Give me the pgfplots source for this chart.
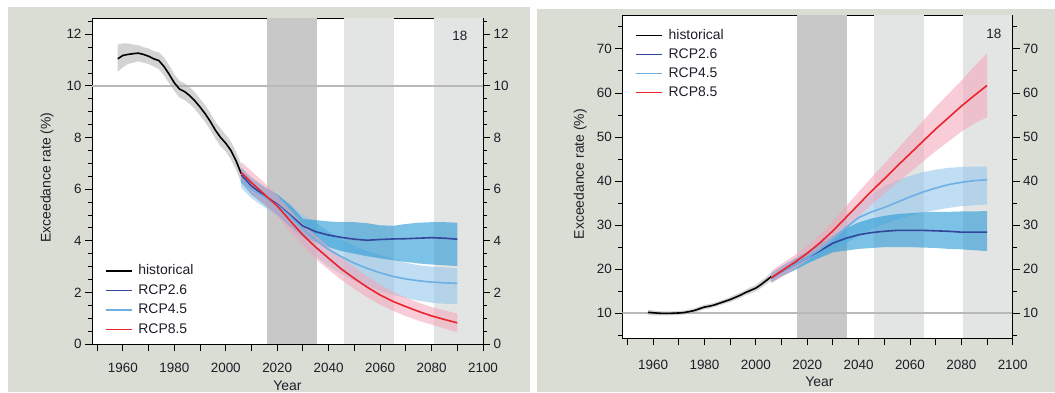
\documentclass[border=0pt]{standalone}
\usepackage{pgfplots}
\pgfplotsset{compat=1.18}
\usepackage{pgfplotstable}
\usepackage{fontspec}
\setmainfont{Liberation Sans}

\definecolor{panelbg}{RGB}{217,221,212}
\definecolor{darkband}{RGB}{200,200,200}
\definecolor{lightband}{RGB}{227,229,228}
\definecolor{refline}{RGB}{185,185,185}
\definecolor{histband}{RGB}{175,175,175}
\definecolor{bandA}{RGB}{45,155,215}
\definecolor{bandB}{RGB}{150,200,235}
\definecolor{bandC}{RGB}{245,165,185}
\definecolor{lineA}{RGB}{50,70,155}
\definecolor{lineB}{RGB}{110,175,228}
\definecolor{lineC}{RGB}{235,35,45}
\definecolor{txt}{RGB}{30,30,40}

% ---------------- ensemble means, falling exceedance rate ----------------
\pgfplotstableread{
year mean
1958 11.05
1960 11.18
1962 11.22
1964 11.25
1966 11.27
1968 11.22
1970 11.15
1972 11.05
1974 10.98
1976 10.75
1978 10.45
1980 10.12
1982 9.88
1984 9.78
1986 9.62
1988 9.42
1990 9.18
1992 8.92
1994 8.62
1996 8.28
1998 8.00
2000 7.78
2002 7.50
2004 7.10
2005 6.85
2006 6.60
}\histL

\pgfplotstableread{
year mean
2006 6.55
2010 6.12
2015 5.75
2020 5.42
2025 5.00
2030 4.57
2035 4.35
2040 4.22
2045 4.13
2050 4.06
2055 4.02
2060 4.05
2065 4.07
2070 4.08
2075 4.10
2080 4.12
2085 4.10
2090 4.06
}\rcpaL

\pgfplotstableread{
year mean
2006 6.35
2010 6.00
2015 5.70
2020 5.38
2025 4.95
2030 4.45
2035 4.03
2040 3.66
2045 3.38
2050 3.13
2055 2.93
2060 2.76
2065 2.62
2070 2.52
2075 2.45
2080 2.40
2085 2.37
2090 2.35
}\rcpbL

\pgfplotstableread{
year mean
2006 6.65
2010 6.25
2015 5.80
2020 5.35
2025 4.78
2030 4.22
2035 3.75
2040 3.32
2045 2.90
2050 2.54
2055 2.20
2060 1.90
2065 1.65
2070 1.45
2075 1.26
2080 1.09
2085 0.95
2090 0.82
}\rcpcL

% ---------------- ensemble means, rising exceedance rate ----------------
\pgfplotstableread{
year mean
1958 10.20
1960 10.10
1962 10.00
1964 9.95
1966 9.95
1968 10.00
1970 10.05
1972 10.15
1974 10.35
1976 10.60
1978 11.00
1980 11.40
1982 11.60
1984 11.90
1986 12.30
1988 12.70
1990 13.10
1992 13.60
1994 14.10
1996 14.70
1998 15.20
2000 15.70
2002 16.50
2004 17.40
2006 18.30
}\histR

\pgfplotstableread{
year mean
2006 18.0
2010 19.5
2015 21.0
2020 22.6
2025 24.2
2030 25.9
2035 27.0
2040 27.8
2045 28.3
2050 28.6
2055 28.8
2060 28.8
2065 28.8
2070 28.7
2075 28.6
2080 28.4
2085 28.4
2090 28.4
}\rcpaR

\pgfplotstableread{
year mean
2006 18.0
2010 19.5
2015 21.0
2020 22.6
2025 24.5
2030 26.8
2035 29.4
2040 31.7
2045 33.0
2050 34.0
2055 35.2
2060 36.4
2065 37.5
2070 38.4
2075 39.2
2080 39.7
2085 40.1
2090 40.3
}\rcpbR

\pgfplotstableread{
year mean
2006 18.0
2010 19.6
2015 21.5
2020 23.6
2025 26.0
2030 28.7
2035 31.7
2040 34.7
2045 37.7
2050 40.5
2055 43.4
2060 46.2
2065 49.0
2070 51.8
2075 54.4
2080 57.0
2085 59.4
2090 61.7
}\rcpcR

\pgfplotsset{
  legend image code/.code={\draw[#1, line width=1.4bp] (0bp,0bp) -- (26bp,0bp);},
  panel/.style={
    scale only axis, anchor=south west,
    xmin=1948, xmax=2100,
    axis background/.style={fill=white},
    axis line style={line width=1bp, black},
    tick align=outside,
    major tick length=7bp, minor tick length=4bp,
    every tick/.style={black, line width=0.9bp},
    xtick={1950,1960,...,2100},
    xticklabels={,1960,,1980,,2000,,2020,,2040,,2060,,2080,,2100},
    xticklabel style={yshift=-9bp},
    xtick pos=left, ytick pos=left,
    tick label style={font=\fontsize{13.5}{15}\selectfont, text=txt},
    label style={font=\fontsize{14}{16}\selectfont, text=txt},
    /pgf/number format/assume math mode=true,
    /pgf/number format/1000 sep={},
    xlabel={Year}, ylabel={Exceedance rate (\%)},
    legend cell align=left,
    legend style={draw=none, fill=none, anchor=north west,
      font=\fontsize{14}{16}\selectfont, text=txt,
      row sep=3.5bp, column sep=5bp,
      nodes={inner sep=1bp, text height=11bp, text depth=3bp}},
  },
  rightticks/.style={
    scale only axis, anchor=south west,
    xmin=1948, xmax=2100,
    axis x line=none, axis y line*=right,
    axis line style={line width=1bp, black},
    tick align=outside,
    major tick length=7bp, minor tick length=4bp,
    every tick/.style={black, line width=0.9bp},
    tick label style={font=\fontsize{13.5}{15}\selectfont, text=txt},
    /pgf/number format/assume math mode=true,
  },
  spread/.style={draw=none, forget plot, fill=#1},
  mean/.style={#1, line width=1.6bp},
}

\begin{document}
\begin{tikzpicture}[x=1bp,y=1bp]
\fill[panelbg] (8,0) rectangle (530,385);
\fill[panelbg] (537,0) rectangle (1055,383);

% ================= left panel =================
\begin{axis}[panel, at={(92bp,48bp)}, width=391bp, height=325.7bp,
  ymin=0, ymax=12.62,
  ytick={0,2,...,12}, minor ytick={0,0.5,...,12.5},
  xlabel style={at={(axis description cs:0.5,-0.127)}, anchor=center},
  ylabel style={at={(axis description cs:-0.115,0.511)}, anchor=center},
  legend style={at={(axis description cs:0.025,0.256)}},
]
% reporting periods
\addplot[fill=darkband, draw=none, forget plot] coordinates {(2016,0) (2016,12.62) (2035.5,12.62) (2035.5,0)} -- cycle;
\addplot[fill=lightband, draw=none, forget plot] coordinates {(2046,0) (2046,12.62) (2065.5,12.62) (2065.5,0)} -- cycle;
\addplot[fill=lightband, draw=none, forget plot] coordinates {(2080.8,0) (2080.8,12.62) (2100,12.62) (2100,0)} -- cycle;
% 10 % reference level
\addplot[refline, line width=2bp, forget plot] coordinates {(1948,10) (2100,10)};
% ensemble spread: upper edge forwards, lower edge backwards
\addplot[spread=histband, fill opacity=0.55] coordinates {
 (1958,11.60)(1960,11.65)(1962,11.65)(1964,11.60)(1966,11.58)(1968,11.50)(1970,11.45)
 (1972,11.35)(1974,11.30)(1976,11.10)(1978,10.80)(1980,10.45)(1982,10.20)(1984,10.10)
 (1986,9.95)(1988,9.75)(1990,9.50)(1992,9.25)(1994,8.95)(1996,8.60)(1998,8.35)
 (2000,8.10)(2002,7.85)(2004,7.45)(2005,7.20)(2006,6.95)
 (2006,6.25)(2005,6.50)(2004,6.75)(2002,7.15)(2000,7.45)(1998,7.65)(1996,7.95)
 (1994,8.30)(1992,8.60)(1990,8.85)(1988,9.10)(1986,9.30)(1984,9.45)(1982,9.55)
 (1980,9.80)(1978,10.10)(1976,10.40)(1974,10.65)(1972,10.75)(1970,10.85)(1968,10.90)
 (1966,10.95)(1964,10.90)(1962,10.85)(1960,10.72)(1958,10.55)} -- cycle;
\addplot[spread=bandB, fill opacity=0.6] coordinates {
 (2006,6.70)(2010,6.35)(2015,6.05)(2020,5.80)(2025,5.40)(2030,5.00)(2035,4.70)(2040,4.35)
 (2045,4.05)(2050,3.80)(2055,3.60)(2060,3.45)(2065,3.30)(2070,3.15)(2075,3.05)(2080,3.00)
 (2085,2.97)(2090,2.95)
 (2090,1.55)(2085,1.56)(2080,1.60)(2075,1.68)(2070,1.78)(2065,1.90)(2060,2.05)(2055,2.25)
 (2050,2.45)(2045,2.70)(2040,3.00)(2035,3.40)(2030,3.90)(2025,4.45)(2020,4.95)(2015,5.30)
 (2010,5.65)(2006,6.05)} -- cycle;
\addplot[spread=bandA, fill opacity=0.62] coordinates {
 (2006,6.85)(2010,6.45)(2015,6.10)(2020,5.80)(2025,5.40)(2030,4.85)(2035,4.80)(2040,4.75)
 (2045,4.72)(2050,4.72)(2055,4.68)(2060,4.60)(2065,4.58)(2070,4.65)(2075,4.70)(2080,4.72)
 (2085,4.72)(2090,4.70)
 (2090,3.02)(2085,3.05)(2080,3.08)(2075,3.12)(2070,3.18)(2065,3.25)(2060,3.32)(2055,3.40)
 (2050,3.50)(2045,3.60)(2040,3.75)(2035,3.95)(2030,4.15)(2025,4.55)(2020,5.00)(2015,5.40)
 (2010,5.80)(2006,6.25)} -- cycle;
\addplot[spread=bandC, fill opacity=0.55] coordinates {
 (2006,7.05)(2010,6.70)(2015,6.25)(2020,5.75)(2025,5.20)(2030,4.65)(2035,4.20)(2040,3.76)
 (2045,3.35)(2050,2.98)(2055,2.62)(2060,2.30)(2065,2.02)(2070,1.80)(2075,1.60)(2080,1.43)
 (2085,1.30)(2090,1.18)
 (2090,0.45)(2085,0.60)(2080,0.75)(2075,0.90)(2070,1.08)(2065,1.28)(2060,1.52)(2055,1.80)
 (2050,2.13)(2045,2.48)(2040,2.88)(2035,3.30)(2030,3.80)(2025,4.35)(2020,4.95)(2015,5.40)
 (2010,5.85)(2006,6.30)} -- cycle;
% ensemble means
\addplot[mean=black] table[x=year,y=mean]{\histL};
\addlegendentry{historical}
\addplot[mean=lineA] table[x=year,y=mean]{\rcpaL};
\addlegendentry{RCP2.6}
\addplot[mean=lineB] table[x=year,y=mean]{\rcpbL};
\addlegendentry{RCP4.5}
\addplot[mean=lineC] table[x=year,y=mean]{\rcpcL};
\addlegendentry{RCP8.5}
\node[font=\fontsize{13.5}{15}\selectfont, text=txt] at (axis description cs:0.941,0.947) {18};
\end{axis}
% same scale repeated on the right-hand side
\begin{axis}[rightticks, at={(92bp,48bp)}, width=391bp, height=325.7bp,
  ymin=0, ymax=12.62,
  ytick={0,2,...,12}, minor ytick={0,0.5,...,12.5}]
\addplot[draw=none, forget plot] coordinates {(2000,5) (2010,6)};
\end{axis}

% ================= right panel =================
\begin{axis}[panel, at={(622.3bp,53.7bp)}, width=390.4bp, height=323.3bp,
  ymin=4.3, ymax=77.7,
  ytick={10,20,...,70}, minor ytick={5,10,...,75},
  xticklabel style={yshift=-2bp},
  xlabel style={at={(axis description cs:0.505,-0.134)}, anchor=center},
  ylabel style={at={(axis description cs:-0.108,0.508)}, anchor=center},
  legend style={at={(axis description cs:0.025,0.968)}, row sep=3bp},
]
\addplot[fill=darkband, draw=none, forget plot] coordinates {(2016,4.3) (2016,77.7) (2035.5,77.7) (2035.5,4.3)} -- cycle;
\addplot[fill=lightband, draw=none, forget plot] coordinates {(2046,4.3) (2046,77.7) (2065.5,77.7) (2065.5,4.3)} -- cycle;
\addplot[fill=lightband, draw=none, forget plot] coordinates {(2080.8,4.3) (2080.8,77.7) (2100,77.7) (2100,4.3)} -- cycle;
\addplot[refline, line width=2bp, forget plot] coordinates {(1948,10) (2100,10)};
\addplot[spread=histband, fill opacity=0.55] coordinates {
 (1958,10.80)(1960,10.60)(1962,10.50)(1964,10.40)(1966,10.40)(1968,10.45)(1970,10.50)
 (1972,10.60)(1974,10.80)(1976,11.10)(1978,11.50)(1980,11.90)(1982,12.10)(1984,12.40)
 (1986,12.80)(1988,13.20)(1990,13.70)(1992,14.20)(1994,14.70)(1996,15.30)(1998,15.90)
 (2000,16.40)(2002,17.30)(2004,18.20)(2006,19.20)
 (2006,17.40)(2004,16.60)(2002,15.70)(2000,15.00)(1998,14.50)(1996,14.10)(1994,13.50)
 (1992,13.00)(1990,12.50)(1988,12.20)(1986,11.80)(1984,11.40)(1982,11.10)(1980,10.90)
 (1978,10.50)(1976,10.10)(1974,9.90)(1972,9.70)(1970,9.60)(1968,9.55)(1966,9.50)
 (1964,9.50)(1962,9.50)(1960,9.50)(1958,9.60)} -- cycle;
\addplot[spread=bandB, fill opacity=0.6] coordinates {
 (2006,19.2)(2010,20.7)(2015,22.4)(2020,24.1)(2025,26.3)(2030,28.9)(2035,31.8)(2040,34.6)
 (2045,37.0)(2050,38.9)(2055,40.2)(2060,41.2)(2065,42.0)(2070,42.6)(2075,43.0)(2080,43.2)
 (2085,43.3)(2090,43.3)
 (2090,34.7)(2085,34.5)(2080,34.3)(2075,33.9)(2070,33.4)(2065,32.8)(2060,32.1)(2055,31.3)
 (2050,30.3)(2045,29.0)(2040,27.5)(2035,25.9)(2030,24.3)(2025,22.7)(2020,21.1)(2015,19.7)
 (2010,18.3)(2006,17.0)} -- cycle;
\addplot[spread=bandA, fill opacity=0.62] coordinates {
 (2006,19.0)(2010,20.6)(2015,22.3)(2020,24.0)(2025,25.8)(2030,27.6)(2035,29.3)(2040,30.6)
 (2045,31.5)(2050,32.1)(2055,32.5)(2060,32.7)(2065,32.9)(2070,33.0)(2075,33.0)(2080,33.1)
 (2085,33.1)(2090,33.2)
 (2090,24.1)(2085,24.3)(2080,24.5)(2075,24.6)(2070,24.8)(2065,24.9)(2060,25.0)(2055,25.0)
 (2050,25.0)(2045,24.8)(2040,24.6)(2035,24.2)(2030,23.8)(2025,22.6)(2020,21.3)(2015,19.8)
 (2010,18.4)(2006,17.0)} -- cycle;
\addplot[spread=bandC, fill opacity=0.55] coordinates {
 (2006,19.6)(2010,21.2)(2015,23.1)(2020,25.3)(2025,27.9)(2030,30.9)(2035,34.2)(2040,37.5)
 (2045,40.8)(2050,43.9)(2055,47.2)(2060,50.4)(2065,53.6)(2070,56.8)(2075,59.8)(2080,62.8)
 (2085,66.0)(2090,69.0)
 (2090,54.5)(2085,53.0)(2080,51.2)(2075,49.0)(2070,46.8)(2065,44.4)(2060,42.0)(2055,39.6)
 (2050,37.1)(2045,34.6)(2040,31.9)(2035,29.2)(2030,26.6)(2025,24.2)(2020,22.0)(2015,20.0)
 (2010,18.2)(2006,16.8)} -- cycle;
\addplot[mean=black] table[x=year,y=mean]{\histR};
\addlegendentry{historical}
\addplot[mean=lineA] table[x=year,y=mean]{\rcpaR};
\addlegendentry{RCP2.6}
\addplot[mean=lineB] table[x=year,y=mean]{\rcpbR};
\addlegendentry{RCP4.5}
\addplot[mean=lineC] table[x=year,y=mean]{\rcpcR};
\addlegendentry{RCP8.5}
\node[font=\fontsize{13.5}{15}\selectfont, text=txt] at (axis description cs:0.952,0.943) {18};
\end{axis}
\begin{axis}[rightticks, at={(622.3bp,53.7bp)}, width=390.4bp, height=323.3bp,
  ymin=4.3, ymax=77.7,
  ytick={10,20,...,70}, minor ytick={5,10,...,75}]
\addplot[draw=none, forget plot] coordinates {(2000,20) (2010,30)};
\end{axis}
% the page is exactly the two framed panels and their margins
\pgfresetboundingbox
\path[use as bounding box] (0,0) rectangle (1055,392);
\end{tikzpicture}
\end{document}
